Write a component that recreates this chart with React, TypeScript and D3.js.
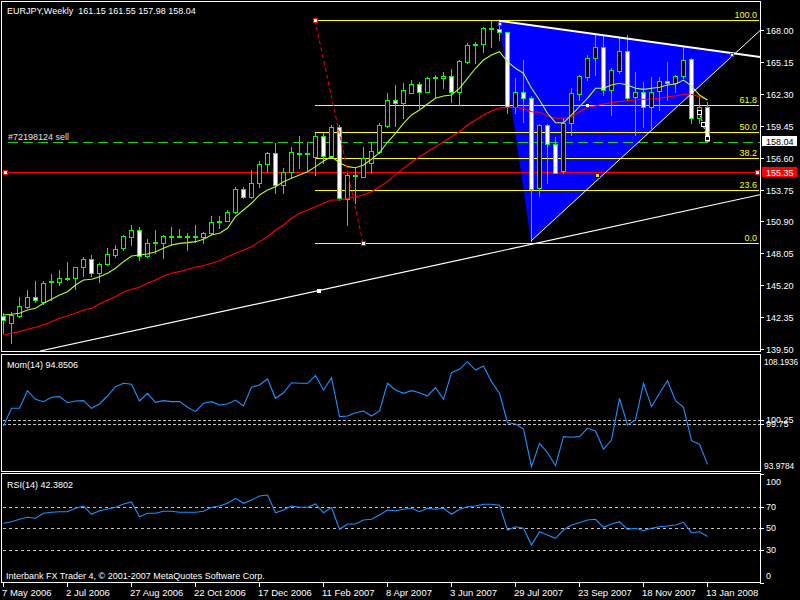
import React from "react";
import * as d3 from "d3";

const dateLabels = ["7 May 2006", "2 Jul 2006", "27 Aug 2006", "22 Oct 2006", "17 Dec 2006", "11 Feb 2007", "8 Apr 2007", "3 Jun 2007", "29 Jul 2007", "23 Sep 2007", "18 Nov 2007", "13 Jan 2008"];

const opens = [142.49,141.80,142.45,143.23,144.17,143.73,145.50,145.51,145.80,145.82,
146.80,147.51,146.26,147.07,147.90,148.50,149.48,150.13,147.81,149.00,
148.94,149.56,149.58,149.58,149.50,149.48,149.84,150.90,150.96,151.77,
153.77,153.11,154.30,156.03,157.04,154.15,155.34,156.98,156.92,156.68,
158.53,156.77,159.31,152.90,154.96,154.89,156.09,157.13,159.45,161.75,
161.45,162.40,163.15,162.49,163.70,163.68,163.92,162.43,165.17,166.68,
166.72,168.08,168.06,167.79,161.15,162.43,161.90,153.86,159.51,157.81,
155.43,159.66,162.28,163.83,165.53,166.51,162.64,164.36,166.12,161.99,
162.49,161.15,162.55,163.47,163.24,163.89,165.38,160.11,161.15];
const highs = [142.72,142.83,144.17,144.77,145.57,145.57,146.20,146.56,147.25,146.85,
147.75,147.90,147.18,148.55,148.79,149.69,150.58,150.40,149.30,150.13,
149.69,150.43,150.19,149.84,150.58,149.98,151.38,151.38,151.92,153.95,
153.95,155.49,156.32,157.13,157.93,155.64,157.57,158.53,158.02,158.82,
158.80,159.51,159.51,155.22,155.64,157.57,157.88,159.66,162.34,163.09,
163.29,163.53,163.38,163.77,163.98,164.27,164.49,165.32,166.87,166.95,
168.29,168.83,168.83,167.85,163.68,165.32,162.10,159.60,159.60,158.47,
160.14,162.79,163.95,165.77,167.55,167.55,164.58,167.26,167.55,164.27,
163.38,163.83,163.77,165.17,163.98,166.51,165.47,162.04,161.55];
const lows = [140.93,140.01,142.36,143.14,143.73,143.52,143.88,145.22,145.66,144.83,
146.02,146.02,145.51,147.00,147.75,148.35,148.79,147.45,147.70,148.11,
147.60,148.79,149.48,148.35,149.09,148.94,149.80,150.28,150.90,151.68,
152.99,152.96,153.95,155.34,153.46,153.46,154.89,155.64,155.49,155.05,
156.12,156.68,152.81,150.58,152.52,154.87,155.20,156.98,159.36,159.42,
160.11,162.34,161.00,162.46,162.04,162.79,161.59,161.30,165.08,165.08,
166.06,166.51,167.11,160.56,160.56,159.81,149.15,153.17,154.30,155.20,
155.20,158.62,161.75,163.53,163.98,162.19,160.41,164.13,161.75,158.62,
159.36,159.22,160.85,161.75,162.49,163.68,159.66,159.66,157.98];
const closes = [142.09,142.54,143.34,144.12,143.88,145.42,145.58,145.82,145.84,146.80,
147.51,146.26,147.07,147.99,148.41,149.60,150.13,147.81,149.00,149.06,
149.60,149.62,149.62,149.62,149.56,149.84,150.87,150.96,151.77,153.77,
153.11,154.30,156.03,156.98,154.15,155.34,157.07,157.04,156.98,158.53,
156.77,159.31,152.96,155.05,155.05,156.54,157.19,159.51,161.75,161.45,
162.64,163.15,162.49,163.68,163.76,163.92,162.43,165.23,166.63,166.74,
168.15,168.14,167.79,161.15,162.43,161.90,153.77,159.51,157.81,155.25,
159.66,162.34,163.89,165.47,166.51,162.64,164.43,166.12,161.90,162.43,
161.15,162.49,163.47,163.24,163.89,165.32,160.11,161.10,158.04];

const maFast = [142.54,142.60,142.69,142.98,143.14,143.58,143.94,144.32,144.62,145.22,
145.66,145.73,145.96,146.26,146.71,147.30,147.81,147.90,147.99,148.19,
148.50,148.79,148.94,149.00,149.09,149.30,149.69,149.84,150.28,151.32,
151.92,152.52,153.26,153.71,154.00,154.45,154.75,155.05,155.34,155.79,
156.30,156.68,156.14,155.79,155.70,155.94,156.45,157.04,157.97,158.77,
159.66,160.41,160.85,161.39,161.90,162.10,162.19,162.79,163.68,164.58,
165.32,165.77,166.06,165.17,164.58,164.13,162.79,161.75,160.56,159.72,
159.72,160.41,161.15,161.90,162.79,162.79,163.09,163.24,163.09,162.79,
162.70,162.79,162.88,163.09,163.18,163.53,162.99,162.19,161.75];
const maSlow = [140.75,140.90,141.05,141.26,141.44,141.64,141.94,142.24,142.45,142.69,
142.99,143.14,143.52,143.88,144.17,144.62,144.83,145.01,145.37,145.66,
146.02,146.26,146.41,146.62,146.80,146.94,147.16,147.39,147.75,148.05,
148.35,148.64,149.09,149.53,150.13,150.58,151.18,151.62,151.92,152.21,
152.52,152.81,152.81,152.96,153.11,153.26,153.55,154.00,154.45,155.05,
155.64,156.18,156.68,157.13,157.57,158.02,158.47,158.91,159.51,159.96,
160.41,160.76,161.03,161.09,161.08,161.00,160.70,160.65,160.32,160.11,
160.11,160.25,160.70,161.09,161.21,161.39,161.51,161.60,161.68,161.75,
161.81,161.84,161.90,162.04,162.10,162.26,162.26,162.04,161.75];

const momValues = [99.53,101.69,101.69,103.84,102.79,102.50,103.03,103.11,102.37,102.58,
102.62,101.69,102.22,103.19,104.33,104.74,104.62,102.58,103.52,102.42,
102.62,102.50,102.50,101.81,101.28,102.30,102.50,102.09,102.22,102.70,
101.97,104.25,104.53,105.27,102.91,103.59,104.81,104.74,104.74,105.67,
103.92,105.42,100.67,100.75,101.15,101.36,100.75,101.36,104.74,103.92,
103.52,103.84,103.59,103.19,104.20,102.79,106.03,106.45,107.38,106.36,
106.85,104.94,103.52,99.93,99.77,99.16,94.56,97.42,96.27,94.69,
98.23,98.15,98.23,99.25,98.92,96.69,97.82,102.91,99.65,100.26,
104.74,101.89,103.52,105.06,102.62,101.81,97.74,97.30,94.85];
const rsiValues = [54.56,56.04,58.25,60.09,59.17,63.78,64.70,65.25,65.25,68.39,
70.51,62.86,66.18,67.74,69.31,72.35,74.19,60.65,63.78,63.78,
65.62,65.62,64.70,64.70,64.70,65.62,69.31,70.51,73.00,77.60,
73.00,76.04,79.72,80.65,64.33,66.82,70.51,69.31,69.31,72.35,
64.33,69.31,49.03,53.92,53.92,57.60,58.25,62.21,66.82,66.18,
67.47,68.39,65.25,68.39,67.47,68.39,62.86,67.47,69.86,70.51,
72.07,72.07,71.15,48.39,51.43,49.95,34.56,46.82,43.78,40.74,
48.39,53.00,55.12,57.60,58.25,50.88,53.92,56.04,49.03,49.95,
47.74,49.95,51.43,52.07,53.00,55.48,45.90,46.82,42.38];

const priceTicks = [168.0, 165.15, 162.3, 159.45, 156.6, 153.75, 150.9, 148.05, 145.2, 142.35, 139.5];
const momRange = [93.9784, 108.1936];
const momLevels = [100.25, 99.75];
const rsiLevels = [70, 50, 30];
const rsiLabels = [100, 70, 50, 30, 0];
const fibRatios = [0, 23.6, 38.2, 50, 61.8, 100];
const fibHigh = [39, 168.89];
const fibLow = [45, 148.97];
const triTop = [62, 168.83];
const triBottom = [66, 149.15];
const triRight = [91.5, 165.9];
const supportA = [4.625, 139.32];
const supportB = [39.5, 144.73];
const bidPrice = 158.04;
const orderPrice = 158.0;
const redLinePrice = 155.35;
const tradeMarks = [[87, 160.7], [87.5, 159.6], [88, 158.35]];
const yellowMark = [74.25, 155.05];
const whiteMark = [73, 161.3];

const FONT = "'Liberation Sans', Arial, sans-serif";
const L = 2, R = 760;

export default function App() {
  const N = opens.length;
  const x = d3.scaleLinear().domain([0, N - 1]).range([3, 707]);
  const yP = d3.scaleLinear().domain([139.5, 168]).range([349, 30]);
  const yM = d3.scaleLinear().domain(momRange).range([471.5, 355]);
  const yR = d3.scaleLinear().domain([0, 100]).range([582.5, 474]);
  const rightIdx = x.invert(R);
  const ext = (a: number[], b: number[], t: number) => a[1] + (b[1] - a[1]) * (t - a[0]) / (b[0] - a[0]);

  const lineP = d3.line<number>().x((_, i) => x(i) + 0.5).y((d) => yP(d));
  const lineM = d3.line<number>().x((_, i) => x(i) + 0.5).y((d) => yM(d));
  const lineR = d3.line<number>().x((_, i) => x(i) + 0.5).y((d) => yR(d));

  const fibRange = fibHigh[1] - fibLow[1];
  const tri = [triTop, triBottom, triRight].map((p) => `${x(p[0])},${yP(p[1])}`).join(" ");

  const sq = (cx: number, cy: number, s: number, fill: string, stroke: string, key: string) => (
    <rect key={key} x={Math.round(cx - s / 2) + 0.5} y={Math.round(cy - s / 2) + 0.5} width={s} height={s} fill={fill} stroke={stroke} shapeRendering="crispEdges" />
  );

  return (
    <div style={{ position: "absolute", left: 0, top: 0 }}>
      <svg width={800} height={600} style={{ display: "block", background: "#000" }} fontFamily={FONT}>
        <defs>
          <clipPath id="cMain"><rect x={2} y={2} width={758} height={349} /></clipPath>
          <clipPath id="cMom"><rect x={2} y={355} width={758} height={116} /></clipPath>
          <clipPath id="cRsi"><rect x={2} y={474} width={758} height={108} /></clipPath>
        </defs>
        <rect x={0} y={0} width={800} height={600} fill="#000" />

        {/* main panel */}
        <g clipPath="url(#cMain)">
          <polygon points={tri} fill="#0000FF" />
          {fibRatios.map((r) => {
            const yy = Math.round(yP(fibLow[1] + (fibRange * r) / 100)) + 0.5;
            return <line key={"f" + r} x1={x(fibHigh[0])} x2={R - 1} y1={yy} y2={yy} stroke="#FFFF00" shapeRendering="crispEdges" />;
          })}
          <line x1={L} x2={R} y1={Math.round(yP(redLinePrice)) + 0.5} y2={Math.round(yP(redLinePrice)) + 0.5} stroke="#FF0000" strokeWidth={1} shapeRendering="crispEdges" />
          <line x1={8} x2={R} y1={Math.round(yP(orderPrice)) + 0.5} y2={Math.round(yP(orderPrice)) + 0.5} stroke="#22CC22" strokeDasharray="10,5" shapeRendering="crispEdges" />
          <line x1={x(supportA[0])} y1={yP(supportA[1])} x2={R} y2={yP(ext(supportA, supportB, rightIdx))} stroke="#fff" strokeWidth={1.2} />
          {opens.map((o, i) => {
            const c = closes[i];
            const cx = Math.round(x(i));
            const top = Math.round(yP(Math.max(o, c)));
            const bot = Math.round(yP(Math.min(o, c)));
            const bear = c < o;
            return (
              <g key={"c" + i} shapeRendering="crispEdges">
                <line x1={cx + 0.5} x2={cx + 0.5} y1={Math.round(yP(highs[i]))} y2={Math.round(yP(lows[i])) + 1} stroke="#00FF00" />
                <rect x={cx - 1.5} y={top + 0.5} width={4} height={Math.max(1, bot - top)} fill={bear ? "#fff" : "#000"} stroke="#00FF00" />
              </g>
            );
          })}
          <path d={lineP(maSlow) || ""} fill="none" stroke="#FF0000" strokeWidth={1.1} />
          <path d={lineP(maFast) || ""} fill="none" stroke="#ADFF2F" strokeWidth={1.1} />
          <line x1={x(triTop[0])} y1={yP(triTop[1])} x2={R} y2={yP(ext(triTop, triRight, rightIdx))} stroke="#fff" strokeWidth={2} />
          <line x1={x(triBottom[0])} y1={yP(triBottom[1])} x2={R} y2={yP(ext(triBottom, triRight, rightIdx))} stroke="#fff" strokeWidth={1} />
          <line x1={x(fibHigh[0])} y1={yP(fibHigh[1])} x2={x(fibLow[0])} y2={yP(fibLow[1])} stroke="#FF0000" strokeDasharray="4,3" />
          {sq(x(fibHigh[0]), yP(fibHigh[1]), 4, "#fff", "#FF0000", "fh")}
          {sq(x(fibLow[0]), yP(fibLow[1]), 4, "#fff", "#FF0000", "fl")}
          {sq(x(supportB[0]), yP(supportB[1]), 3, "#fff", "#fff", "sb")}
          {sq(x(triTop[0]), yP(triTop[1]) + 3, 3, "#fff", "#4040ff", "tt")}
          {sq(x(triRight[0]) - 4, yP(triRight[1]) + 1, 3, "#fff", "#4040ff", "tr")}
          {sq(x(yellowMark[0]), yP(yellowMark[1]), 4, "#FFD700", "#000", "ym")}
          {sq(x(whiteMark[0]), yP(whiteMark[1]), 2, "#fff", "#fff", "wm")}
          <path d={d3.line()(tradeMarks.map((p) => [x(p[0]), yP(p[1])] as [number, number])) || ""} stroke="#fff" strokeDasharray="2,2" fill="none" />
          {tradeMarks.map((p, k) => sq(x(p[0]), yP(p[1]), 4, "#000", "#fff", "tm" + k))}
          {sq(5, yP(redLinePrice), 4, "#fff", "#FF0000", "rl")}
          {sq(757, yP(redLinePrice), 4, "#fff", "#FF0000", "rr")}
          {fibRatios.map((r) => (
            <text key={"ft" + r} x={757} y={Math.round(yP(fibLow[1] + (fibRange * r) / 100)) - 2} textAnchor="end" fontSize={9} fill="#FFFF00">{r.toFixed(1)}</text>
          ))}
          <text x={8} y={140} fontSize={9} fill="#E0E0E0">#72198124 sell</text>
        </g>

        {/* momentum */}
        <g clipPath="url(#cMom)">
          {momLevels.map((v) => (
            <line key={"ml" + v} x1={3} x2={R} y1={Math.round(yM(v)) + 0.5} y2={Math.round(yM(v)) + 0.5} stroke="#C0C0C0" strokeDasharray="3,2" shapeRendering="crispEdges" />
          ))}
          <path d={lineM(momValues) || ""} fill="none" stroke="#1E90FF" strokeWidth={1.1} />
        </g>

        {/* RSI */}
        <g clipPath="url(#cRsi)">
          {rsiLevels.map((v) => (
            <line key={"rl" + v} x1={3} x2={R} y1={Math.round(yR(v)) + 0.5} y2={Math.round(yR(v)) + 0.5} stroke="#C0C0C0" strokeDasharray="3,3" shapeRendering="crispEdges" />
          ))}
          <path d={lineR(rsiValues) || ""} fill="none" stroke="#1E90FF" strokeWidth={1.1} />
        </g>

        {/* frames */}
        <g fill="none" stroke="#fff" shapeRendering="crispEdges">
          <rect x={1.5} y={1.5} width={759} height={350} />
          <rect x={1.5} y={354.5} width={759} height={117} />
          <rect x={1.5} y={473.5} width={759} height={109} />
        </g>

        {/* price axis */}
        {priceTicks.map((v) => {
          const yy = Math.round(yP(v));
          return (
            <g key={"pt" + v}>
              <line x1={R} x2={R + 4} y1={yy + 0.5} y2={yy + 0.5} stroke="#fff" shapeRendering="crispEdges" />
              <text x={766} y={yy + 3.5} fontSize={9} fill="#fff">{v.toFixed(2)}</text>
            </g>
          );
        })}
        <rect x={762} y={Math.round(yP(bidPrice)) - 5} width={35} height={10} fill="#fff" />
        <text x={766} y={Math.round(yP(bidPrice)) + 3.5} fontSize={9} fill="#000">{bidPrice.toFixed(2)}</text>
        <rect x={762} y={Math.round(yP(redLinePrice)) - 5} width={35} height={10} fill="#FF0000" />
        <text x={766} y={Math.round(yP(redLinePrice)) + 3.5} fontSize={9} fill="#fff">{redLinePrice.toFixed(2)}</text>

        {/* momentum axis */}
        <text x={764} y={yM(momRange[1]) + 10} fontSize={8.2} fill="#fff">{momRange[1].toFixed(4)}</text>
        <text x={764} y={yM(momRange[0]) - 2.5} fontSize={8.4} fill="#fff">{momRange[0].toFixed(4)}</text>
        {momLevels.map((v) => (
          <g key={"mt" + v}>
            <line x1={R} x2={R + 4} y1={Math.round(yM(v)) + 0.5} y2={Math.round(yM(v)) + 0.5} stroke="#fff" shapeRendering="crispEdges" />
            <text x={766} y={yM(v) + 3} fontSize={9} fill="#fff">{v.toFixed(2)}</text>
          </g>
        ))}

        {/* rsi axis */}
        {rsiLabels.map((v) => {
          const yy = yR(v);
          const by = v === 100 ? yy + 10.5 : v === 0 ? yy - 4 : yy + 3;
          return (
            <g key={"rt" + v}>
              <line x1={R} x2={R + 4} y1={Math.round(yy) + 0.5} y2={Math.round(yy) + 0.5} stroke="#fff" shapeRendering="crispEdges" />
              <text x={766} y={by} fontSize={9} fill="#fff">{v}</text>
            </g>
          );
        })}

        {/* time axis */}
        {dateLabels.map((lab, k) => {
          const tx = Math.round(x(k * 8));
          return (
            <g key={"d" + k}>
              <line x1={tx + 0.5} x2={tx + 0.5} y1={582} y2={587} stroke="#fff" shapeRendering="crispEdges" />
              <text x={tx - 1} y={596} fontSize={9.5} fill="#fff">{lab}</text>
            </g>
          );
        })}

        {/* titles */}
        <text x={7} y={14} fontSize={9} fill="#fff" style={{ whiteSpace: "pre" }}>{"EURJPY,Weekly  161.15 161.55 157.98 158.04"}</text>
        <text x={7} y={368} fontSize={9} fill="#fff">Mom(14) 94.8506</text>
        <text x={7} y={488} fontSize={9} fill="#fff">RSI(14) 42.3802</text>
        <text x={6} y={579} fontSize={9} fill="#fff">Interbank FX Trader 4, © 2001-2007 MetaQuotes Software Corp.</text>
      </svg>
    </div>
  );
}
